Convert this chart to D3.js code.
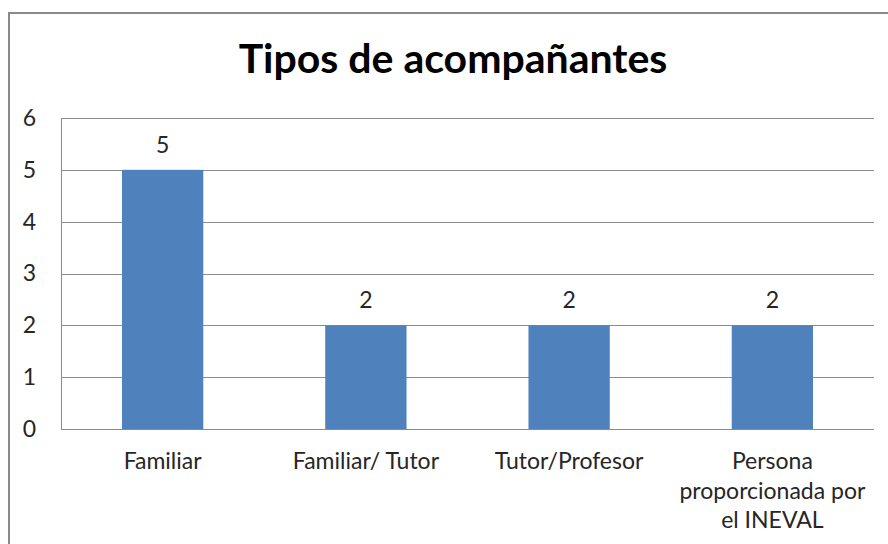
<!DOCTYPE html>
<html>
<head>
<meta charset="utf-8">
<script src="https://cdn.jsdelivr.net/npm/d3@7"></script>
<style>
  body { margin: 0; background: #fff; }
  svg { display: block; }
  text { font-family: Lato, "Open Sans", sans-serif; fill: #262626; }
</style>
</head>
<body>
<div id="chart"></div>
<script>
var title = 'Tipos de acompañantes';
var categories = ['Familiar', 'Familiar/ Tutor', 'Tutor/Profesor', 'Persona proporcionada por el INEVAL'];
var values = [5, 2, 2, 2];
var yTicks = [0, 1, 2, 3, 4, 5, 6];

var width = 888,
    height = 544,
    plotLeft = 61, plotRight = 874,
    plotTop = 118, plotBottom = 429,
    fontSize = '23px';

var svg = d3.select('#chart').append('svg')
    .attr('width', width)
    .attr('height', height);

/* outer chart border (runs off the right / bottom edge) */
svg.append('rect')
    .attr('x', 9).attr('y', 13)
    .attr('width', 920).attr('height', 600)
    .attr('fill', '#fff')
    .attr('stroke', '#8a8a8a')
    .attr('stroke-width', 2);

var x = d3.scaleBand()
    .domain(categories)
    .range([plotLeft, plotRight])
    .paddingInner(0.6)
    .paddingOuter(0.3);

var y = d3.scaleLinear()
    .domain([0, d3.max(yTicks)])
    .range([plotBottom, plotTop]);

/* gridlines */
svg.append('g')
    .selectAll('line')
    .data(yTicks)
    .enter().append('line')
    .attr('x1', plotLeft).attr('x2', plotRight)
    .attr('y1', function(d) { return Math.round(y(d)) + 0.5; })
    .attr('y2', function(d) { return Math.round(y(d)) + 0.5; })
    .attr('stroke', '#8c8c8c')
    .attr('stroke-width', 1);

/* plot area left edge */
svg.append('line')
    .attr('x1', plotLeft + 0.5).attr('x2', plotLeft + 0.5)
    .attr('y1', plotTop).attr('y2', plotBottom)
    .attr('stroke', '#8c8c8c');

/* bars */
svg.append('g')
    .selectAll('rect')
    .data(values)
    .enter().append('rect')
    .attr('x', function(d, i) { return x(categories[i]); })
    .attr('y', function(d) { return y(d); })
    .attr('width', x.bandwidth())
    .attr('height', function(d) { return y(0) - y(d); })
    .attr('fill', '#4f81bd');

/* value labels */
svg.append('g')
    .selectAll('text')
    .data(values)
    .enter().append('text')
    .attr('x', function(d, i) { return x(categories[i]) + x.bandwidth() / 2; })
    .attr('y', function(d) { return y(d) - 17; })
    .attr('text-anchor', 'middle')
    .style('font-size', fontSize)
    .text(function(d) { return d; });

/* y axis */
var yAxis = svg.append('g')
    .attr('transform', 'translate(' + plotLeft + ',0)')
    .call(d3.axisLeft(y).tickValues(yTicks).tickSize(0).tickPadding(25).tickFormat(d3.format('d')));
yAxis.select('.domain').remove();
yAxis.selectAll('text')
    .style('font-size', fontSize)
    .style('font-family', 'Lato, "Open Sans", sans-serif')
    .attr('fill', '#262626');

/* x axis */
var xAxis = svg.append('g')
    .attr('transform', 'translate(0,' + plotBottom + ')')
    .call(d3.axisBottom(x).tickSize(0).tickPadding(24));
xAxis.select('.domain').remove();
xAxis.selectAll('text')
    .style('font-size', fontSize)
    .style('font-family', 'Lato, "Open Sans", sans-serif')
    .attr('fill', '#262626')
    .call(wrap, 195);

function wrap(texts, maxWidth) {
    texts.each(function() {
        var text = d3.select(this),
            words = text.text().split(/\s+/),
            line = [],
            lineNo = 0,
            yy = text.attr('y'),
            dy = parseFloat(text.attr('dy')),
            tspan = text.text(null).append('tspan').attr('x', 0).attr('y', yy).attr('dy', dy + 'em');
        words.forEach(function(w) {
            line.push(w);
            tspan.text(line.join(' '));
            if (tspan.node().getComputedTextLength() > maxWidth && line.length > 1) {
                line.pop();
                tspan.text(line.join(' '));
                line = [w];
                lineNo++;
                tspan = text.append('tspan').attr('x', 0).attr('y', yy)
                    .attr('dy', (lineNo * 1.28 + dy) + 'em').text(w);
            }
        });
    });
}

/* title */
svg.append('text')
    .attr('x', 453)
    .attr('y', 73)
    .attr('text-anchor', 'middle')
    .style('font-size', '41px')
    .style('font-weight', 'bold')
    .style('fill', '#000')
    .text(title);
</script>
</body>
</html>
